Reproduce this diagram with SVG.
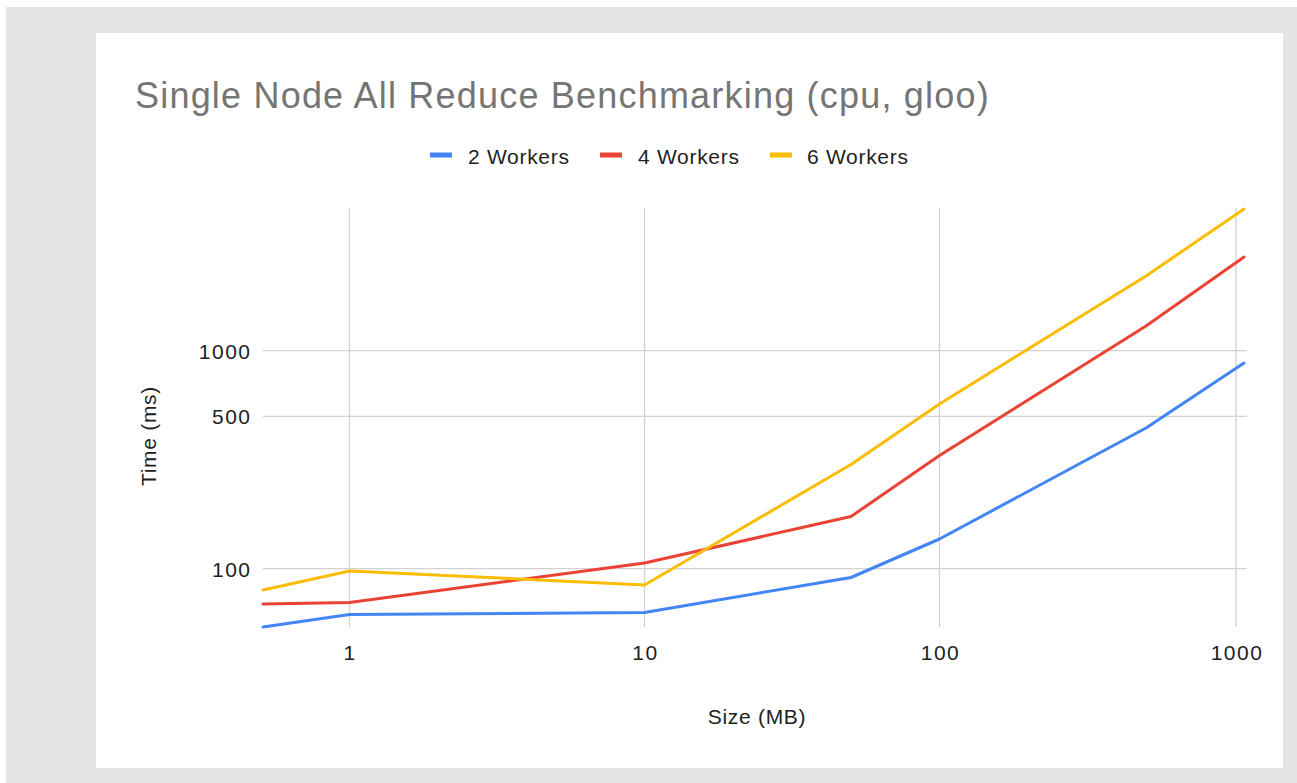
<svg xmlns="http://www.w3.org/2000/svg" width="1297" height="783" viewBox="0 0 1297 783">
<style>
.grid{stroke:#d2d2d2;stroke-width:1.3;fill:none}
.lbl{font-family:"Liberation Sans",Arial,sans-serif;font-size:21px;letter-spacing:0.7px;fill:#222222}
.num{letter-spacing:1.5px}
.ttl{font-family:"Liberation Sans",Arial,sans-serif;font-size:36px;letter-spacing:1.2px;fill:#757575}
.ser{fill:none;stroke-width:3;stroke-linejoin:round;stroke-linecap:round}
</style>
<rect x="0" y="0" width="1297" height="783" fill="#ffffff"/>
<rect x="6" y="7" width="1291" height="776" fill="#e5e5e5"/>
<rect x="96" y="33" width="1187" height="735" fill="#ffffff"/>
<g id="title"><text class="ttl" x="135" y="108">Single Node All Reduce Benchmarking (cpu, gloo)</text></g>
<g id="legend">
<rect x="430" y="152.5" width="22" height="5" fill="#4285f4"/>
<text class="lbl" x="468" y="164">2 Workers</text>
<rect x="600" y="152.5" width="22" height="5" fill="#ea4335"/>
<text class="lbl" x="638" y="164">4 Workers</text>
<rect x="770" y="152.5" width="22" height="5" fill="#fbbc04"/>
<text class="lbl" x="807" y="164">6 Workers</text>
</g>
<g id="gridlines">
<line class="grid" x1="349.5" y1="208" x2="349.5" y2="627"/>
<line class="grid" x1="644.5" y1="208" x2="644.5" y2="627"/>
<line class="grid" x1="939.5" y1="208" x2="939.5" y2="627"/>
<line class="grid" x1="1236" y1="208" x2="1236" y2="627"/>
<line class="grid" x1="263" y1="350.7" x2="1247" y2="350.7"/>
<line class="grid" x1="263" y1="416.3" x2="1247" y2="416.3"/>
<line class="grid" x1="263" y1="568.7" x2="1247" y2="568.7"/>
</g>
<g id="y-axis">
<text class="lbl num" x="251.5" y="358.5" text-anchor="end">1000</text>
<text class="lbl num" x="251.5" y="424" text-anchor="end">500</text>
<text class="lbl num" x="251.5" y="577" text-anchor="end">100</text>
<text class="lbl" transform="translate(156,436) rotate(-90)" text-anchor="middle">Time (ms)</text>
</g>
<g id="x-axis">
<text class="lbl num" x="350" y="660" text-anchor="middle">1</text>
<text class="lbl num" x="645.5" y="660" text-anchor="middle">10</text>
<text class="lbl num" x="940.5" y="660" text-anchor="middle">100</text>
<text class="lbl num" x="1237" y="660" text-anchor="middle">1000</text>
<text class="lbl" x="757" y="724" text-anchor="middle">Size (MB)</text>
</g>
<g id="series">
<polyline id="s2" class="ser" stroke="#4285f4" points="263,627 349.5,614.5 644.5,612.5 851,577.5 939.5,539 1146,428 1244,363"/>
<polyline id="s4" class="ser" stroke="#ea4335" points="263,604 349.5,602.5 644.5,563 851,516.5 939.5,455.5 1146,326 1244,257"/>
<polyline id="s6" class="ser" stroke="#fbbc04" points="263,590 349.5,571 644.5,585 851,464.5 939.5,404 1146,276 1244,209"/>
</g>
</svg>
